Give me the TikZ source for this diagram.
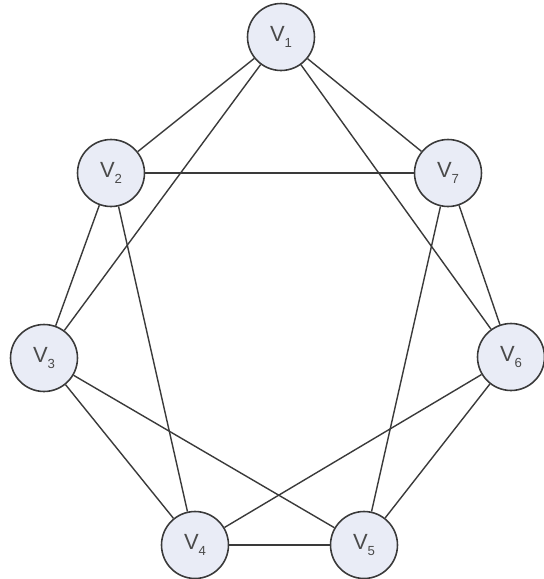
\documentclass[tikz,border=0pt]{standalone}
\usepackage{fontspec}
\setmainfont{Liberation Sans}
\definecolor{vfill}{HTML}{E9ECF6}
\definecolor{vline}{HTML}{3A3A3A}
\definecolor{vtext}{HTML}{4A4A4A}
\newcommand{\vlab}[1]{V\raisebox{-0.45ex}{\fontsize{7.5}{8}\selectfont #1}}

\begin{document}
\begin{tikzpicture}[x=0.02cm,y=-0.02cm,
  vert/.style={circle,draw=vline,line width=0.9pt,fill=vfill,minimum size=1.34cm,inner sep=0pt,
    text=vtext,font=\fontsize{12.5}{14}\selectfont},
  edge/.style={draw=vline,line width=0.8pt}]
\useasboundingbox (0,0) rectangle (544,579);
\node[vert] (v1) at (281, 37) {\vlab{1}};
\node[vert] (v2) at (111, 173) {\vlab{2}};
\node[vert] (v7) at (448, 173) {\vlab{7}};
\node[vert] (v3) at (44, 358) {\vlab{3}};
\node[vert] (v6) at (511, 357) {\vlab{6}};
\node[vert] (v4) at (195, 545) {\vlab{4}};
\node[vert] (v5) at (364, 545) {\vlab{5}};

\draw[edge] (v1) -- (v2);
\draw[edge] (v1) -- (v3);
\draw[edge] (v1) -- (v7);
\draw[edge] (v1) -- (v6);
\draw[edge] (v2) -- (v7);
\draw[edge] (v2) -- (v3);
\draw[edge] (v2) -- (v4);
\draw[edge] (v7) -- (v6);
\draw[edge] (v7) -- (v5);
\draw[edge] (v3) -- (v4);
\draw[edge] (v3) -- (v5);
\draw[edge] (v6) -- (v4);
\draw[edge] (v6) -- (v5);
\draw[edge] (v4) -- (v5);
\end{tikzpicture}
\end{document}
